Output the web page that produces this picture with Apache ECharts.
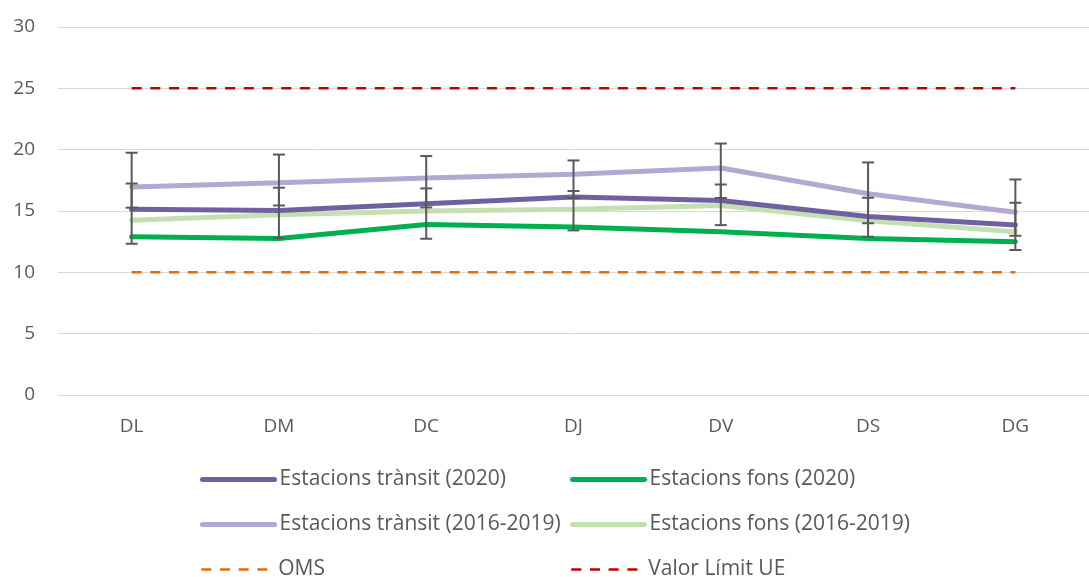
<!DOCTYPE html>
<html>
<head>
<meta charset="utf-8">
<script src="https://cdn.jsdelivr.net/npm/echarts@6/dist/echarts.min.js"></script>
<style>
  html, body { margin: 0; padding: 0; background: #fff; }
  #chart { width: 1089px; height: 577px; }
</style>
</head>
<body>
<div id="chart"></div>
<script>
const days = ['DL', 'DM', 'DC', 'DJ', 'DV', 'DS', 'DG']

const transit2020 = [15.15, 15.05, 15.6, 16.15, 15.85, 14.55, 13.85]
const fons2020 = [12.9, 12.75, 13.9, 13.7, 13.3, 12.75, 12.5]
const transitHist = [16.95, 17.3, 17.7, 18.0, 18.5, 16.4, 14.9]
const fonsHist = [14.25, 14.7, 15.0, 15.15, 15.45, 14.2, 13.3]
const oms = [10, 10, 10, 10, 10, 10, 10]
const limitUE = [25, 25, 25, 25, 25, 25, 25]

// barres d'error (mín, màx) de les dues sèries 2016-2019
const transitErrLow = [15.27, 15.45, 15.29, 16.06, 16.06, 14.0, 12.98]
const transitErrHigh = [19.75, 19.6, 19.48, 19.12, 20.5, 18.96, 17.57]
const fonsErrLow = [12.33, 12.8, 12.74, 13.42, 13.85, 12.9, 11.82]
const fonsErrHigh = [17.24, 16.9, 16.84, 16.63, 17.16, 16.08, 15.67]

const yTicks = [0, 5, 10, 15, 20, 25, 30]

const textColor = '#595959'
const font = 'Open Sans'

const errData = []
days.forEach((d, i) => {
  errData.push([i, transitErrLow[i], transitErrHigh[i]])
  errData.push([i, fonsErrLow[i], fonsErrHigh[i]])
})

const renderErr = (params, api) => {
  const x = api.value(0)
  const lo = api.coord([x, api.value(1)])
  const hi = api.coord([x, api.value(2)])
  const half = 6
  const style = { stroke: '#595959', lineWidth: 2 }
  return {
    type: 'group',
    children: [
      { type: 'line', shape: { x1: lo[0], y1: lo[1], x2: hi[0], y2: hi[1] }, style },
      { type: 'line', shape: { x1: lo[0] - half, y1: lo[1], x2: lo[0] + half, y2: lo[1] }, style },
      { type: 'line', shape: { x1: hi[0] - half, y1: hi[1], x2: hi[0] + half, y2: hi[1] }, style }
    ]
  }
}

const dash = [10, 8.7]

const lineSeries = (name, data, color, width, type) => ({
  name,
  type: 'line',
  data,
  symbol: 'none',
  animation: false,
  lineStyle: { color, width, type: type || 'solid', cap: type ? 'butt' : 'round' },
  itemStyle: { color }
})

const legendItem = (name, left, top, width) => ({
  left,
  top,
  padding: 0,
  itemWidth: 72,
  itemHeight: 20,
  itemGap: 0,
  itemStyle: { opacity: 0 },
  lineStyle: { width },
  textStyle: { color: textColor, fontSize: 21, fontFamily: font },
  data: [name]
})

const chart = echarts.init(document.getElementById('chart'))
chart.setOption({
  animation: false,
  textStyle: { fontFamily: font },
  grid: { left: 58, top: 27, width: 1043, height: 368 },
  xAxis: {
    type: 'category',
    data: days,
    axisLine: { lineStyle: { color: '#d9d9d9', width: 1 } },
    axisTick: { show: false },
    axisLabel: { color: textColor, fontSize: 19, margin: 22, fontFamily: font }
  },
  yAxis: {
    type: 'value',
    min: yTicks[0],
    max: yTicks[yTicks.length - 1],
    interval: 5,
    axisLine: { show: false },
    axisTick: { show: false },
    axisLabel: { color: textColor, fontSize: 19, margin: 23, fontFamily: font },
    splitLine: { lineStyle: { color: '#d9d9d9', width: 1 } }
  },
  legend: [
    legendItem('Estacions trànsit (2020)', 200, 469, 5),
    legendItem('Estacions fons (2020)', 570, 469, 5),
    legendItem('Estacions trànsit (2016-2019)', 200, 514, 5),
    legendItem('Estacions fons (2016-2019)', 570, 514, 5),
    legendItem('OMS', 200, 559, 2.5),
    legendItem('Valor Límit UE', 570, 559, 2.5)
  ],
  series: [
    lineSeries('OMS', oms, '#e46c0a', 2.5, dash),
    lineSeries('Valor Límit UE', limitUE, '#c00000', 2.5, dash),
    lineSeries('Estacions fons (2016-2019)', fonsHist, '#c5e0b0', 5),
    lineSeries('Estacions trànsit (2016-2019)', transitHist, '#b4a7d1', 5),
    lineSeries('Estacions trànsit (2020)', transit2020, '#7060a2', 5),
    lineSeries('Estacions fons (2020)', fons2020, '#00b050', 5),
    {
      type: 'custom',
      renderItem: renderErr,
      data: errData,
      z: 5,
      silent: true
    }
  ]
})
</script>
</body>
</html>
